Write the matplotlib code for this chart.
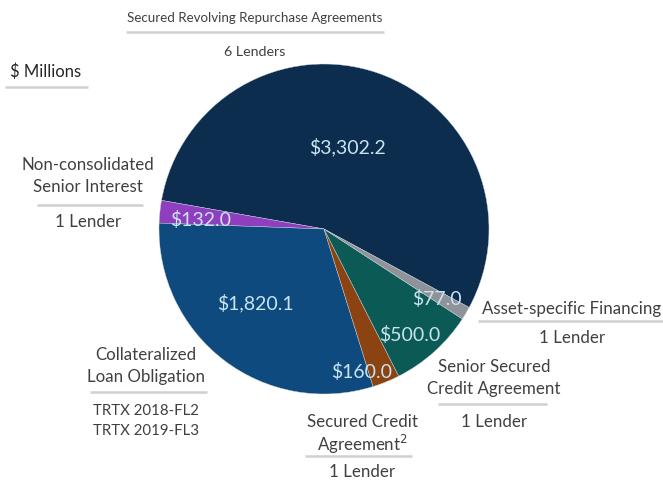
import matplotlib
matplotlib.use("Agg")
import matplotlib.pyplot as plt

# financing sources, $ millions (counter-clockwise from the gray slice)
names = ["Secured Revolving Repurchase Agreements", "Non-consolidated Senior Interest",
         "Collateralized Loan Obligation", "Secured Credit Agreement",
         "Senior Secured Credit Agreement", "Asset-specific Financing"]
values = [3302.2, 132.0, 1820.1, 160.0, 500.0, 77.0]
value_labels = ["$3,302.2", "$132.0", "$1,820.1", "$160.0", "$500.0", "$77.0"]
colors = ["#0c2d4d", "#8e3ebe", "#0f4a7e", "#8b4312", "#0b5a56", "#8d9398"]

# value label positions in pixel coords (x, y from top)
val_pos = [(347, 147), (201, 220), (255, 303), (362, 372), (410, 335), (437, 299)]

# outside category labels: lines above rule, lines below rule, x centre, first line y,
# rule y, rule x0, rule x1, y of lines below, font size
cat_labels = [
    (["Secured Revolving Repurchase Agreements"], ["6 Lenders"], 255, 18, 33, 126, 384, [52], 9.6, 10.3),
    (["Non-consolidated", "Senior Interest"], ["1 Lender"], 88, 165, 206, 37, 143, [222], 12.2, 12.2),
    (["Collateralized", "Loan Obligation"], ["TRTX 2018-FL2", "TRTX 2019-FL3"], 146, 355, 393, 90, 207, [411, 431], 12.2, 10.8),
    (["Secured Credit", "Agreement$^2$"], ["1 Lender"], 362, 422, 457, 305, 412, [472], 12.2, 12.2),
    (["Senior Secured", "Credit Agreement"], ["1 Lender"], 494, 367, 405, 438, 547, [422], 12.2, 12.2),
    (["Asset-specific Financing"], ["1 Lender"], 572, 309, 322, 478, 663, [338], 12.2, 12.2),
]

W, H = 663, 481
plt.rcParams["font.family"] = ["Lato", "DejaVu Sans"]
fig = plt.figure(figsize=(W / 100, H / 100), dpi=100)
ax = fig.add_axes([0, 0, 1, 1])

cx, cy, r = 324, H - 230, 165
ax.pie(values, colors=colors, startangle=-28.4, counterclock=True,
       center=(cx, cy), radius=r, frame=True,
       wedgeprops=dict(linewidth=0.3, edgecolor="#c9d3de"))
ax.set_xlim(0, W)
ax.set_ylim(0, H)
ax.set_aspect("equal")
ax.axis("off")

for lab, (x, y) in zip(value_labels, val_pos):
    ax.text(x, H - y, lab, color="#c9e3f0", fontsize=14, ha="center", va="center")

tc = "#404040"
for above, below, x, y0, ly, lx0, lx1, ys_below, fs_a, fs_b in cat_labels:
    for i, line in enumerate(above):
        ax.text(x, H - (y0 + 22 * i), line, color=tc, fontsize=fs_a, ha="center", va="center")
    ax.plot([lx0, lx1], [H - ly, H - ly], color="#d0d0d0", lw=1.8, solid_capstyle="butt")
    for line, yb in zip(below, ys_below):
        ax.text(x, H - yb, line, color=tc, fontsize=fs_b, ha="center", va="center")

ax.text(10, H - 72, "$ Millions", color="#262626", fontsize=12, ha="left", va="center")
ax.plot([5, 88], [H - 88, H - 88], color="#d0d0d0", lw=1.8, solid_capstyle="butt")

fig.savefig("out.png", dpi=100)
